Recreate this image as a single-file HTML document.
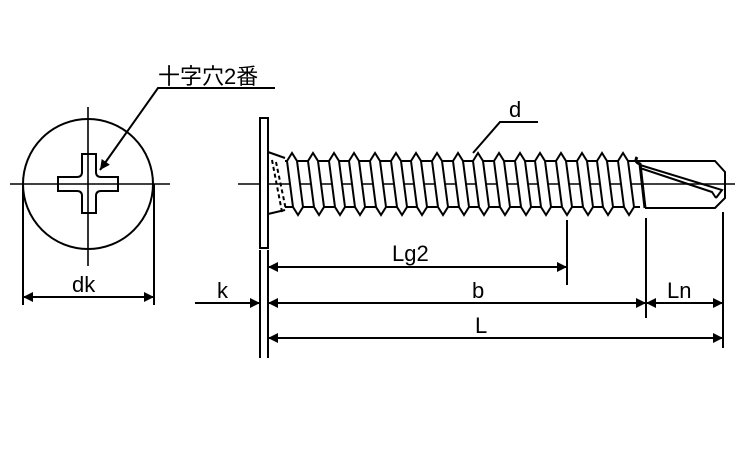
<!DOCTYPE html>
<html><head><meta charset="utf-8"><style>
html,body{margin:0;padding:0;background:#fff;}
svg{display:block;}
text{font-family:"Liberation Sans","Noto Sans CJK JP",sans-serif;fill:#000;}
</style></head><body>
<svg width="750" height="450" viewBox="0 0 750 450" xmlns="http://www.w3.org/2000/svg">
<defs>
<marker id="a" viewBox="0 0 10 10" refX="10" refY="5" markerWidth="14" markerHeight="10" markerUnits="userSpaceOnUse" orient="auto-start-reverse"><path d="M0,0L10,5L0,10z" fill="#000"/></marker>
</defs>
<g stroke="#000" fill="none" stroke-width="2">
<circle cx="88" cy="184" r="65"/>
<line x1="10" y1="184" x2="170" y2="184" stroke-width="1.6"/>
<line x1="88" y1="107" x2="88" y2="266" stroke-width="1.6"/>
<path d="M82,154H96V172Q96,177 101,177H118V191H101Q96,191 96,196V213H82V196Q82,191 77,191H58V177H77Q82,177 82,172Z" fill="#fff"/>
<line x1="88" y1="184" x2="88" y2="213" stroke-width="1.6"/>
<line x1="58" y1="184" x2="118" y2="184" stroke-width="1.6"/>
<line x1="88" y1="154" x2="88" y2="184" stroke-width="1.6"/>
<polyline points="275,88 158,88 100,170" marker-end="url(#a)"/>
<line x1="23" y1="184" x2="23" y2="305"/>
<line x1="154" y1="184" x2="154" y2="305"/>
<line x1="23" y1="297" x2="154" y2="297" marker-start="url(#a)" marker-end="url(#a)"/>
<line x1="238" y1="184" x2="735" y2="184" stroke-width="1.6"/>
<rect x="260" y="118" width="8" height="130" fill="#fff"/>
<path d="M268,152 L285,158 M268,214 L285,210" />
<path d="M272,160 L282,212 M276,162 L286,210" stroke-dasharray="4,3"/>
<line x1="285" y1="161" x2="640" y2="161"/>
<line x1="285" y1="207" x2="640" y2="207"/>
<g fill="#fff">
<path d="M287,161L292,153L297,161L303,207L298,215L293,207Z"/>
<path d="M308,161L313,153L318,161L324,207L319,215L314,207Z"/>
<path d="M329,161L334,153L339,161L345,207L340,215L335,207Z"/>
<path d="M349,161L354,153L359,161L365,207L360,215L355,207Z"/>
<path d="M370,161L375,153L380,161L386,207L381,215L376,207Z"/>
<path d="M391,161L396,153L401,161L407,207L402,215L397,207Z"/>
<path d="M411,161L416,153L421,161L427,207L422,215L417,207Z"/>
<path d="M432,161L437,153L442,161L448,207L443,215L438,207Z"/>
<path d="M453,161L458,153L463,161L469,207L464,215L459,207Z"/>
<path d="M473,161L478,153L483,161L489,207L484,215L479,207Z"/>
<path d="M494,161L499,153L504,161L510,207L505,215L500,207Z"/>
<path d="M515,161L520,153L525,161L531,207L526,215L521,207Z"/>
<path d="M535,161L540,153L545,161L551,207L546,215L541,207Z"/>
<path d="M556,161L561,153L566,161L572,207L567,215L562,207Z"/>
<path d="M577,161L582,153L587,161L593,207L588,215L583,207Z"/>
<path d="M597,161L602,153L607,161L613,207L608,215L603,207Z"/>
<path d="M618,161L623,153L628,161L634,207L629,215L624,207Z"/>
</g>
<path d="M637,157 Q634,162 640,164 L645,208" stroke-width="3"/>
<path d="M640,161H715L725,172V198L715,208H645" stroke-width="2"/>
<path d="M640,165L722,190L716,198M640,168L712,192L716,198"/>
<line x1="260" y1="250" x2="260" y2="358"/>
<line x1="268" y1="250" x2="268" y2="358"/>
<line x1="567" y1="220" x2="567" y2="285"/>
<line x1="646" y1="218" x2="646" y2="318"/>
<line x1="723" y1="212" x2="723" y2="348"/>
<line x1="268" y1="267" x2="567" y2="267" marker-start="url(#a)" marker-end="url(#a)"/>
<line x1="268" y1="303" x2="646" y2="303" marker-start="url(#a)" marker-end="url(#a)"/>
<line x1="646" y1="303" x2="723" y2="303" marker-start="url(#a)" marker-end="url(#a)"/>
<line x1="268" y1="338" x2="723" y2="338" marker-start="url(#a)" marker-end="url(#a)"/>
<line x1="195" y1="303" x2="260" y2="303" marker-end="url(#a)"/>
<polyline points="538,122 500,122 473,153"/>
</g>
<g font-size="22">
<text x="158" y="84">十字穴2番</text>
<text x="72" y="292">dk</text>
<text x="509" y="117">d</text>
<text x="392" y="261">Lg2</text>
<text x="472" y="298">b</text>
<text x="667" y="298">Ln</text>
<text x="475" y="333">L</text>
<text x="217" y="298">k</text>
</g>
</svg>
</body></html>
